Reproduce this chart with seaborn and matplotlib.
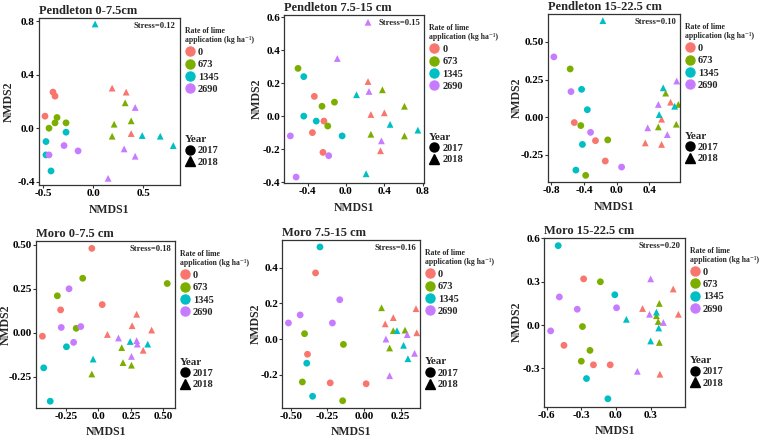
import numpy as np
import pandas as pd
import seaborn as sns
import matplotlib.pyplot as plt
from matplotlib.lines import Line2D

# NMDS ordination of soil samples, six panels (site x depth)

sns.set_style("white")
plt.rcParams['font.family'] = ['Liberation Serif', 'DejaVu Serif']
plt.rcParams['font.weight'] = 'bold'
plt.rcParams['axes.labelweight'] = 'bold'
plt.rcParams['axes.titleweight'] = 'bold'

rate_levels = ['0', '673', '1345', '2690']
year_levels = ['2017', '2018']
palette = ['#F8766D', '#7CAE00', '#00BFC4', '#C77CFF']

# points grouped by year (2017 then 2018), then by rate 0/673/1345/2690
# pen1_n etc. give how many points each of those 8 groups has

pen1_n = [3, 4, 4, 3, 3, 4, 4, 4]
pen1_x = [-0.40, -0.38, -0.48,
          -0.36, -0.38, -0.27, -0.44,
          -0.27, -0.47, -0.47, -0.42,
          -0.29, -0.15, -0.44,
          0.19, 0.33, 0.38,
          0.32, 0.21, 0.38, 0.19,
          0.02, 0.49, 0.67, 0.80,
          0.42, 0.31, 0.42, 0.15]
pen1_y = [0.27, 0.24, 0.09,
          0.08, 0.04, 0.04, 0.00,
          -0.03, -0.10, -0.20, -0.32,
          -0.13, -0.17, -0.20,
          0.30, 0.27, -0.04,
          0.19, 0.03, 0.055, -0.06,
          0.78, -0.055, -0.06, -0.13,
          0.155, -0.155, -0.21, -0.375]

pen2_n = [4, 4, 4, 3, 4, 4, 4, 4]
pen2_x = [-0.33, -0.23, -0.35, -0.24,
          -0.50, -0.25, -0.12, -0.19,
          -0.44, -0.44, -0.31, -0.04,
          -0.58, -0.18, -0.52,
          0.23, 0.26, 0.40, 0.36,
          0.38, 0.61, 0.26, 0.61,
          0.11, 0.46, 0.75, 0.21,
          0.23, -0.09, 0.24, 0.37]
pen2_y = [0.12, -0.03, -0.10, -0.22,
          0.29, 0.06, 0.085, -0.06,
          0.24, 0.00, -0.03, -0.12,
          -0.12, -0.24, -0.37,
          0.21, 0.01, 0.02, -0.21,
          0.16, 0.06, -0.11, -0.12,
          0.13, -0.05, -0.085, -0.35,
          0.57, 0.35, 0.15, -0.15]

pen3_n = [3, 4, 4, 4, 4, 4, 4, 4]
pen3_x = [-0.52, -0.26, -0.14,
          -0.57, -0.44, -0.11, -0.38,
          -0.43, -0.36, -0.42, -0.50,
          -0.77, -0.56, -0.32, 0.06,
          0.66, 0.55, 0.35, 0.55,
          0.60, 0.755, 0.51, 0.73,
          -0.17, 0.57, 0.52, 0.71,
          0.735, 0.51, 0.38, 0.62]
pen3_y = [-0.035, -0.155, -0.29,
          0.32, -0.055, -0.15, -0.385,
          0.185, 0.05, -0.18, -0.35,
          0.40, 0.17, -0.10, -0.33,
          0.10, -0.013, -0.17, -0.18,
          0.16, 0.085, -0.064, -0.046,
          0.64, 0.195, 0.018, 0.073,
          0.24, 0.085, -0.07, -0.115]

moro1_n = [4, 4, 3, 4, 5, 4, 3, 4]
moro1_x = [-0.05, 0.03, -0.29, -0.43,
           -0.12, -0.315, 0.53, -0.17,
           -0.245, -0.42, -0.37,
           -0.225, -0.285, -0.135, -0.19,
           0.295, 0.26, 0.07, 0.41, 0.345,
           0.18, 0.19, 0.255, -0.05,
           0.245, 0.38, -0.04,
           0.155, 0.295, 0.30, 0.255]
moro1_y = [0.48, 0.16, 0.13, -0.02,
           0.31, 0.21, 0.28, 0.025,
           -0.08, -0.20, -0.39,
           0.25, 0.03, 0.035, -0.055,
           0.105, 0.04, -0.01, 0.015, -0.10,
           -0.085, -0.17, -0.185, -0.235,
           -0.05, -0.065, -0.15,
           -0.03, -0.045, -0.065, -0.135]

moro2_n = [4, 4, 3, 4, 4, 4, 3, 4]
moro2_x = [-0.33, -0.385, -0.23, 0.015,
           -0.405, -0.14, -0.42, -0.145,
           -0.30, -0.39, -0.35,
           -0.515, -0.435, -0.215, -0.165,
           0.20, 0.145, 0.355, 0.36,
           0.12, 0.20, 0.28, 0.175,
           0.225, 0.27, 0.30,
           0.295, 0.15, 0.345, 0.175]
moro2_y = [0.37, -0.085, -0.245, -0.25,
           0.03, -0.03, -0.24, -0.345,
           0.515, -0.135, -0.32,
           0.09, 0.135, 0.09, 0.22,
           0.12, 0.085, 0.17, 0.035,
           0.175, 0.047, 0.05, -0.05,
           0.047, -0.035, -0.11,
           0.025, 0.00, -0.08, -0.205]

moro3_n = [4, 4, 4, 4, 4, 4, 4, 4]
moro3_x = [-0.28, -0.45, -0.195, -0.05,
           -0.135, -0.29, -0.225, -0.30,
           -0.50, -0.01, -0.255, -0.07,
           -0.49, -0.335, 0.005, -0.565,
           0.495, 0.23, 0.54, 0.38,
           0.375, 0.35, 0.365, 0.375,
           0.09, 0.35, 0.37, 0.30,
           0.30, 0.29, 0.41, 0.185]
moro3_y = [0.32, -0.14, -0.275, -0.275,
           0.30, -0.01, -0.175, -0.25,
           0.55, 0.21, -0.37, -0.51,
           0.195, 0.11, 0.12, -0.04,
           0.25, 0.115, 0.075, -0.34,
           0.15, 0.065, 0.025, -0.12,
           0.04, 0.09, -0.02, -0.11,
           0.32, 0.075, 0.018, -0.32]

titles = ['Pendleton 0-7.5cm', 'Pendleton 7.5-15 cm', 'Pendleton 15-22.5 cm',
          'Moro 0-7.5 cm', 'Moro 7.5-15 cm', 'Moro 15-22.5 cm']
stress = ['Stress=0.12', 'Stress=0.15', 'Stress=0.10',
          'Stress=0.18', 'Stress=0.16', 'Stress=0.20']
xticks = [[-0.5, 0.0, 0.5], [-0.4, 0.0, 0.4, 0.8], [-0.8, -0.4, 0.0, 0.4],
          [-0.25, 0.0, 0.25, 0.5], [-0.5, -0.25, 0.0, 0.25], [-0.6, -0.3, 0.0, 0.3]]
xticklabels = [['-0.5', '0.0', '0.5'], ['-0.4', '0.0', '0.4', '0.8'],
               ['-0.8', '-0.4', '0.0', '0.4'], ['-0.25', '0.0', '0.25', '0.50'],
               ['-0.50', '-0.25', '0.00', '0.25'], ['-0.6', '-0.3', '0.0', '0.3']]
yticks = [[-0.4, 0.0, 0.4, 0.8], [-0.4, -0.2, 0.0, 0.2, 0.4, 0.6], [-0.25, 0.0, 0.25, 0.5],
          [-0.25, 0.0, 0.25, 0.5], [-0.2, 0.0, 0.2, 0.4], [-0.3, 0.0, 0.3, 0.6]]
yticklabels = [['-0.4', '0.0', '0.4', '0.8'], ['-0.4', '-0.2', '0.0', '0.2', '0.4', '0.6'],
               ['-0.25', '0.00', '0.25', '0.50'], ['-0.25', '0.00', '0.25', '0.50'],
               ['-0.2', '0.0', '0.2', '0.4'], ['-0.3', '0.0', '0.3', '0.6']]

panels = [(pen1_n, pen1_x, pen1_y), (pen2_n, pen2_x, pen2_y), (pen3_n, pen3_x, pen3_y),
          (moro1_n, moro1_x, moro1_y), (moro2_n, moro2_x, moro2_y), (moro3_n, moro3_x, moro3_y)]

# layout (figure fractions) and axis ranges
positions = [[0.0513, 0.5767, 0.1855, 0.3822], [0.3741, 0.5812, 0.1842, 0.3844],
             [0.7207, 0.5835, 0.1741, 0.3844], [0.0474, 0.0670, 0.1829, 0.3815],
             [0.3714, 0.0670, 0.1812, 0.3838], [0.7162, 0.0693, 0.1851, 0.3867]]
ylabel_x = [-0.172, -0.152, -0.187, -0.172, -0.148, -0.151]
xlabel_y = [-0.114, -0.114, -0.114, -0.11, -0.11, -0.11]
xlims = [(-0.54, 0.867), (-0.643, 0.817), (-0.845, 0.776),
         (-0.479, 0.590), (-0.557, 0.382), (-0.62, 0.597)]
ylims = [(-0.425, 0.825), (-0.406, 0.614), (-0.429, 0.684),
         (-0.427, 0.522), (-0.384, 0.554), (-0.565, 0.605)]


def make_frame(n, x, y):
    groups = [(yr, rt) for yr in year_levels for rt in rate_levels]
    year = np.repeat([g[0] for g in groups], n)
    rate = np.repeat([g[1] for g in groups], n)
    return pd.DataFrame({'NMDS1': x, 'NMDS2': y, 'rate': rate, 'year': year})


fig = plt.figure(figsize=(7.6, 4.37), dpi=100)

for i, (n, x, y) in enumerate(panels):
    ax = fig.add_axes(positions[i])
    df = make_frame(n, x, y)
    sns.scatterplot(data=df, x='NMDS1', y='NMDS2', hue='rate', hue_order=rate_levels,
                    palette=palette, style='year', style_order=year_levels,
                    markers={'2017': 'o', '2018': '^'}, s=24, linewidth=0,
                    legend=False, ax=ax)
    ax.set_xlim(xlims[i])
    ax.set_ylim(ylims[i])
    ax.set_xticks(xticks[i], xticklabels[i])
    ax.set_yticks(yticks[i], yticklabels[i])
    ax.tick_params(bottom=True, left=True, length=2, width=0.8, color='#333333',
                   labelsize=8, pad=1, labelcolor='black')
    for sp in ax.spines.values():
        sp.set_color('#333333')
        sp.set_linewidth(0.9)
    ax.set_xlabel('NMDS1', fontsize=8.5)
    ax.set_ylabel('NMDS2', fontsize=8.5)
    ax.yaxis.set_label_coords(ylabel_x[i], 0.5)
    ax.xaxis.set_label_coords(0.5, xlabel_y[i])
    ax.set_title(titles[i], loc='left', fontsize=9, pad=3)
    ax.text(0.97, 0.975, stress[i], transform=ax.transAxes, ha='right', va='top',
            fontsize=6.2)

    rate_handles = [Line2D([], [], marker='o', ls='', color=c, markersize=6.5)
                    for c in palette]
    leg1 = ax.legend(rate_handles, rate_levels,
                     title='Rate of lime\napplication (kg ha\u207b\u00b9)',
                     loc='upper left', bbox_to_anchor=(1.035, 0.945), frameon=False,
                     fontsize=7.5, title_fontsize=5.6, alignment='left',
                     handletextpad=0.25, labelspacing=0.3, borderaxespad=0,
                     borderpad=0, handlelength=1.0)
    ax.add_artist(leg1)
    year_handles = [Line2D([], [], marker=m, ls='', color='black', markersize=6.5)
                    for m in ['o', '^']]
    ax.legend(year_handles, year_levels, title='Year', loc='upper left',
              bbox_to_anchor=(1.035, 0.30), frameon=False, fontsize=7.5,
              title_fontsize=8, alignment='left', handletextpad=0.25,
              labelspacing=0.2, borderaxespad=0, borderpad=0, handlelength=1.0)

fig.savefig('out.png', dpi=100, facecolor='white')
